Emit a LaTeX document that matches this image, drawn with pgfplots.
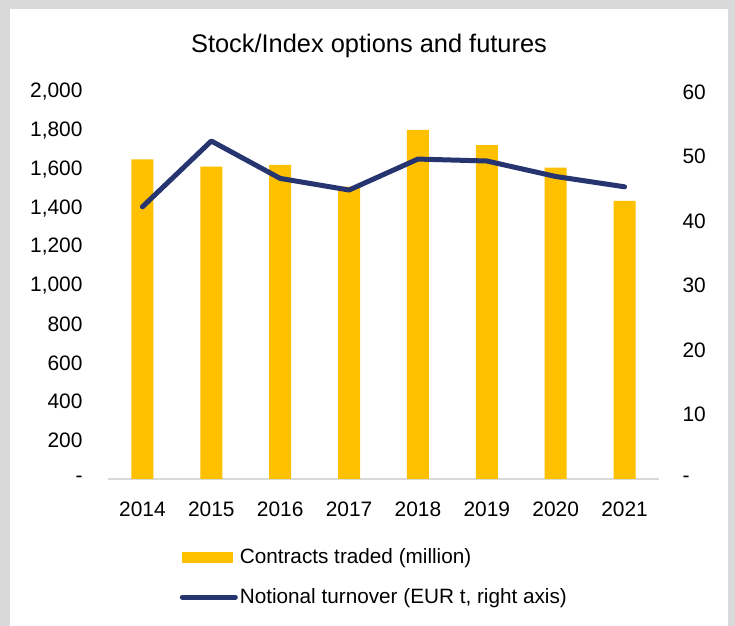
\documentclass[border=0pt]{standalone}
\usepackage{fontspec}
\setmainfont{Liberation Sans}
\usepackage{pgfplots}
\pgfplotsset{compat=1.18}
\definecolor{bary}{HTML}{FFC000}
\definecolor{navy}{HTML}{263570}
\definecolor{bg}{HTML}{D9D9D9}
\begin{document}
\begin{tikzpicture}[x=1bp,y=1bp]
\fill[bg] (0,0) rectangle (735,626);
\fill[white] (10,0) rectangle (728,616.5);
\node[font=\fontsize{25.5}{30}\selectfont] at (369,580) {Stock/Index options and futures};
\begin{axis}[at={(108bp,147bp)}, anchor=south west, scale only axis,
  width=551bp, height=387bp,
  xmin=-0.5, xmax=7.5, ymin=0, ymax=2000,
  axis x line*=bottom, axis y line*=left,
  x axis line style={draw=bg, line width=1.5bp, -},
  y axis line style={draw=none},
  major tick length=0,
  xtick={0,...,7}, xticklabels={2014,2015,2016,2017,2018,2019,2020,2021},
  ytick={0,200,...,2000},
  yticklabels={-,200,400,600,800,{1,000},{1,200},{1,400},{1,600},{1,800},{2,000}},
  tick label style={font=\fontsize{21}{25}\selectfont},
  /pgf/number format/assume math mode=true,
  yticklabel style={xshift=-22bp},
  xticklabel style={yshift=-19bp},
  legend style={draw=none, fill=none, at={(0.13,-0.175)}, anchor=north west,
    font=\fontsize{20.8}{25}\selectfont, row sep=19.5bp, inner sep=0pt},
  legend cell align=left,
]
\addplot[ybar, fill=bary, draw=none, bar width=22bp,
  legend image code/.code={\fill[bary] (0bp,-5.5bp) rectangle (51bp,5.5bp);}]
  coordinates {(0,1652) (1,1614) (2,1623) (3,1511) (4,1804) (5,1725) (6,1609) (7,1437)};
\addlegendentry{Contracts traded (million)}
\addlegendimage{navy,
  legend image code/.code={\draw[navy, line width=5bp, line cap=round] (0bp,0bp) -- (53bp,0bp);}}
\addlegendentry{Notional turnover (EUR t, right axis)}
\end{axis}
\begin{axis}[at={(108bp,147bp)}, anchor=south west, scale only axis,
  width=551bp, height=387bp,
  xmin=-0.5, xmax=7.5, ymin=0, ymax=60,
  axis x line=none, axis y line*=right,
  y axis line style={draw=none},
  major tick length=0,
  ytick={0,10,...,60}, yticklabels={-,10,20,30,40,50,60},
  tick label style={font=\fontsize{21}{25}\selectfont},
  yticklabel style={xshift=20bp},
]
\addplot[navy, line width=5bp, line cap=round, line join=round]
  coordinates {(0,42.2) (1,52.4) (2,46.6) (3,44.8) (4,49.6) (5,49.3) (6,46.9) (7,45.3)};
\end{axis}
\end{tikzpicture}
\end{document}
